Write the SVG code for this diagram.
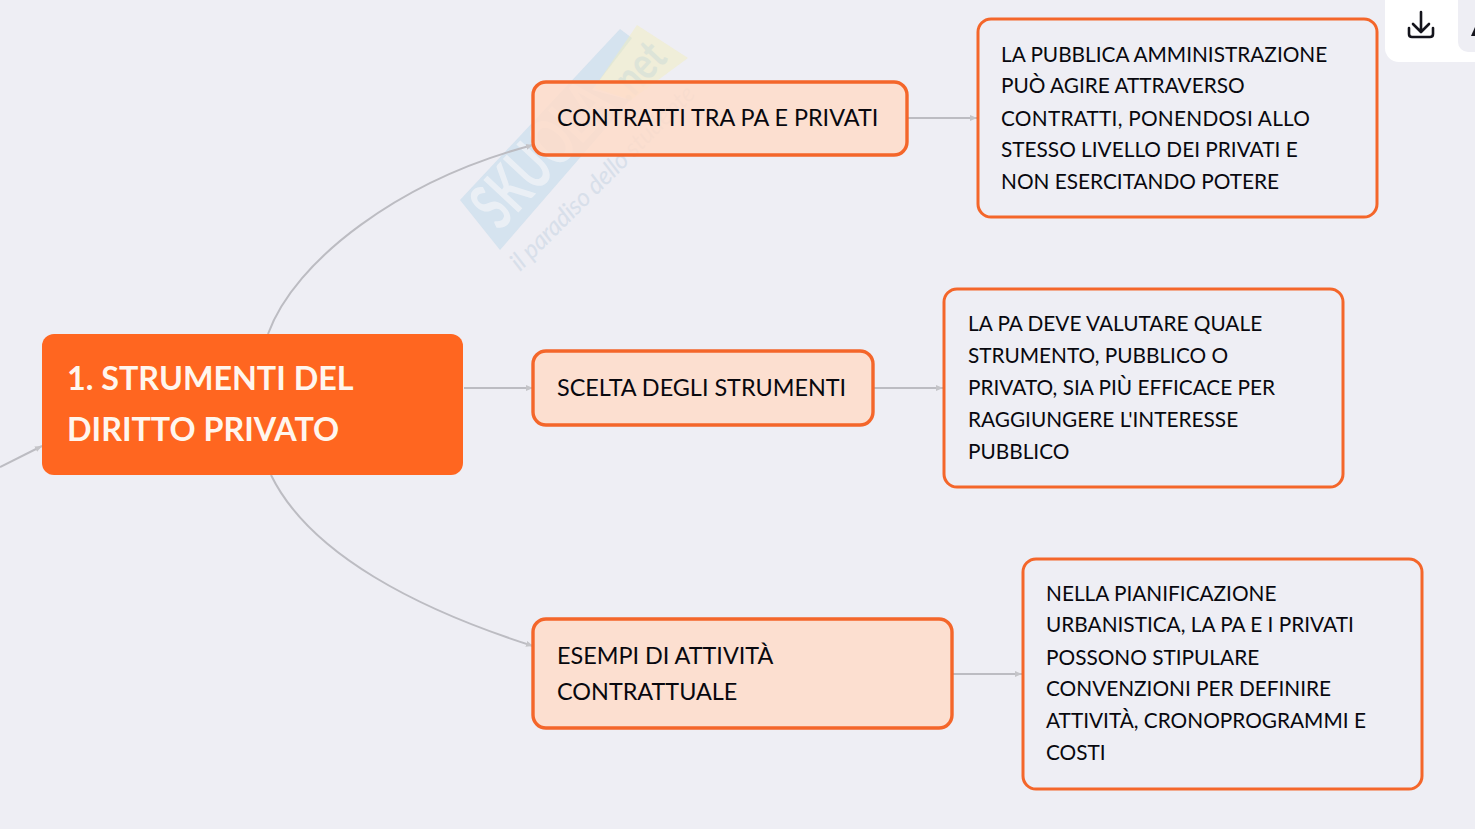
<svg xmlns="http://www.w3.org/2000/svg" width="1475" height="829" viewBox="0 0 1475 829">
<defs>
<marker id="arr" markerWidth="8" markerHeight="8" refX="7" refY="4" orient="auto" markerUnits="userSpaceOnUse"><path d="M0,1 L7,4 L0,7 Z" fill="#c4c4c8"/></marker>
</defs>
<style>
text{font-family:"Lato","Noto Sans",sans-serif;fill:#08080e}
.c{fill:none;stroke:#bcbcc2;stroke-width:2;marker-end:url(#arr)}
.s{fill:#ffdcc8;fill-opacity:.82;stroke:#f4662a;stroke-width:3.4}
.d{fill:#eeeef4;stroke:#f4662a;stroke-width:3}
.t1{font-size:23.4px}
.t2{font-size:20.8px}
.h{font-size:32.3px;font-weight:700;fill:#fff6ee}
</style>
<rect width="1475" height="829" fill="#eeeef4"/>
<g id="watermark">
<polygon points="460,200 620,29 632,38 592,90 630,100 500,250" fill="#bcd8ea" opacity="0.5"/>
<polygon points="637,25 688,58 631,100 594,88" fill="#f2eeb8" opacity="0.45"/>
<text transform="translate(500,232) rotate(-47)" font-size="66" font-weight="700" style="fill:#f2f4f8;opacity:.75" textLength="170" lengthAdjust="spacingAndGlyphs">SKUOLA</text>
<text transform="translate(628,103) rotate(-47)" font-size="46" font-weight="700" style="fill:#c8d8d8;opacity:.45" textLength="60" lengthAdjust="spacingAndGlyphs">.net</text>
<text transform="translate(520,272) rotate(-45)" font-size="25" font-style="italic" style="fill:#d3dce8;opacity:.8" textLength="250">il paradiso dello studente</text>
</g>
<g id="connectors">
<path class="c" d="M0,467 L42,446"/>
<path class="c" d="M268,334 C295,260 400,180 533,145"/>
<path class="c" d="M464,388 L533,388"/>
<path class="c" d="M271,475 C310,555 420,610 533,646"/>
<path class="c" d="M907,118 L977,118"/>
<path class="c" d="M873,388 L943,388"/>
<path class="c" d="M952,674 L1022,674"/>
</g>
<g id="root"><rect x="42" y="334" width="421" height="141" rx="12" fill="#ff6620"/>
<text class="h" x="67" y="390">1. STRUMENTI DEL</text><text class="h" x="67" y="441">DIRITTO PRIVATO</text></g>
<g id="n1"><rect class="s" x="533" y="82" width="374" height="73" rx="13"/><text class="t1" x="557" y="126">CONTRATTI TRA PA E PRIVATI</text></g>
<g id="n2"><rect class="s" x="533" y="351" width="340" height="74" rx="13"/><text class="t1" x="557" y="396">SCELTA DEGLI STRUMENTI</text></g>
<g id="n3"><rect class="s" x="533" y="619" width="419" height="109" rx="13"/><text class="t1" x="557" y="664">ESEMPI DI ATTIVITÀ</text><text class="t1" x="557" y="700">CONTRATTUALE</text></g>
<g id="d1"><rect class="d" x="978" y="19" width="399" height="198" rx="13"/>
<text class="t2" x="1001" y="62">LA PUBBLICA AMMINISTRAZIONE</text><text class="t2" x="1001" y="93">PUÒ AGIRE ATTRAVERSO</text><text class="t2" x="1001" y="126" textLength="309">CONTRATTI, PONENDOSI ALLO</text><text class="t2" x="1001" y="157">STESSO LIVELLO DEI PRIVATI E</text><text class="t2" x="1001" y="189">NON ESERCITANDO POTERE</text></g>
<g id="d2"><rect class="d" x="944" y="289" width="399" height="198" rx="13"/>
<text class="t2" x="968" y="331">LA PA DEVE VALUTARE QUALE</text><text class="t2" x="968" y="363">STRUMENTO, PUBBLICO O</text><text class="t2" x="968" y="395">PRIVATO, SIA PIÙ EFFICACE PER</text><text class="t2" x="968" y="427">RAGGIUNGERE L'INTERESSE</text><text class="t2" x="968" y="459">PUBBLICO</text></g>
<g id="d3"><rect class="d" x="1023" y="559" width="399" height="230" rx="13"/>
<text class="t2" x="1046" y="601">NELLA PIANIFICAZIONE</text><text class="t2" x="1046" y="632">URBANISTICA, LA PA E I PRIVATI</text><text class="t2" x="1046" y="665">POSSONO STIPULARE</text><text class="t2" x="1046" y="696">CONVENZIONI PER DEFINIRE</text><text class="t2" x="1046" y="728">ATTIVITÀ, CRONOPROGRAMMI E</text><text class="t2" x="1046" y="760">COSTI</text></g>
<g id="toolbar"><rect x="1385" y="-20" width="110" height="82" rx="14" fill="#ffffff"/>
<rect x="1458" y="-20" width="40" height="72" rx="10" fill="#eeeef4"/>
<path d="M1421,12 V31 M1413,24 L1421,32 L1429,24 M1409,28 V34 Q1409,37 1412,37 H1430 Q1433,37 1433,34 V28" fill="none" stroke="#14141c" stroke-width="2.6" stroke-linecap="round" stroke-linejoin="round"/>
<path d="M1471,36 L1475,27 V36 Z" fill="#14141c"/></g>
</svg>
